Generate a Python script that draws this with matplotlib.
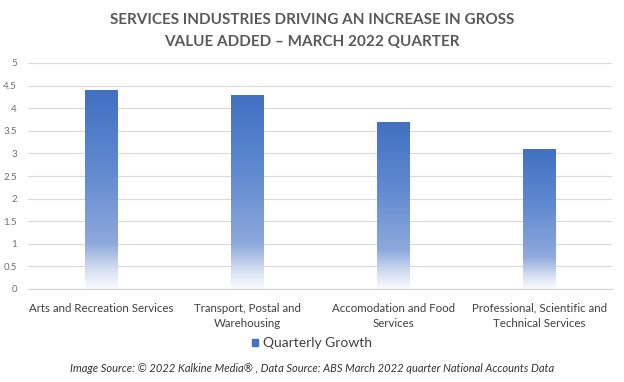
import numpy as np
import matplotlib.pyplot as plt
from matplotlib.colors import LinearSegmentedColormap
from matplotlib.patches import Rectangle, Patch

# data
categories = ['Arts and Recreation Services', 'Transport, Postal and\nWarehousing',
              'Accomodation and Food\nServices', 'Professional, Scientific and\nTechnical Services']
growth = [4.4, 4.3, 3.7, 3.1]
series_name = 'Quarterly Growth'
title = 'SERVICES INDUSTRIES DRIVING AN INCREASE IN GROSS\nVALUE ADDED \u2013 MARCH 2022 QUARTER'
footer = 'Image Source: \u00a9 2022 Kalkine Media\u00ae , Data Source: ABS March 2022 quarter National Accounts Data'

plt.rcParams['font.family'] = ['Lato', 'DejaVu Sans']
grey = '#595959'

fig = plt.figure(figsize=(6.24, 3.82), dpi=100)
ax = fig.add_axes([28 / 624, 1 - 289 / 382, 584 / 624, 226 / 382])

# gradient from pale at base to solid blue at top
cmap = LinearSegmentedColormap.from_list('bar', [
    (0.0, '#FAFBFE'), (0.1, '#D3DDF1'), (0.23, '#8EA9DC'),
    (0.6, '#6089D0'), (1.0, '#4170C2')])
grad = np.linspace(0, 1, 256).reshape(-1, 1)

width = 0.22
x = np.arange(len(categories))
for xi, v in zip(x, growth):
    rect = Rectangle((xi - width / 2, 0), width, v, facecolor='none', edgecolor='none')
    ax.add_patch(rect)
    im = ax.imshow(grad, cmap=cmap, origin='lower', aspect='auto',
                   extent=(xi - width / 2, xi + width / 2, 0, v), zorder=2)
    im.set_clip_path(rect)

ax.set_xlim(-0.5, len(categories) - 0.5)
ax.set_ylim(0, 5)
ax.set_yticks(np.arange(0, 5.01, 0.5))
ax.set_yticklabels(['0', '0.5', '1', '1.5', '2', '2.5', '3', '3.5', '4', '4.5', '5'])
ax.set_xticks(x)
ax.set_xticklabels(categories, linespacing=1.45)
ax.grid(axis='y', color='#D9D9D9', linewidth=0.8, zorder=0)
for s in ['top', 'right', 'left']:
    ax.spines[s].set_visible(False)
ax.spines['bottom'].set_color('#D0D0D0')
ax.tick_params(axis='both', length=0)
ax.tick_params(axis='y', labelsize=7, pad=8, labelcolor='#6E6E6E')
ax.tick_params(axis='x', labelsize=8.3, pad=10, labelcolor='#404040')
ax.set_axisbelow(True)

fig.text(0.5, 1 - 31 / 382, title, ha='center', va='center', fontsize=11,
         fontweight='bold', color=grey, linespacing=1.75)

handle = Patch(facecolor='#4472C4', edgecolor='#4472C4')
fig.legend([handle], [series_name], loc='center', bbox_to_anchor=(0.5, 1 - 343 / 382),
           frameon=False, fontsize=10, labelcolor='#404040', handlelength=0.4,
           handleheight=0.4, handletextpad=0.4)

fig.text(0.5, 1 - 368 / 382, footer, ha='center', va='center', fontsize=8,
         style='italic', color='#333333')

fig.savefig('out.png', dpi=100)
